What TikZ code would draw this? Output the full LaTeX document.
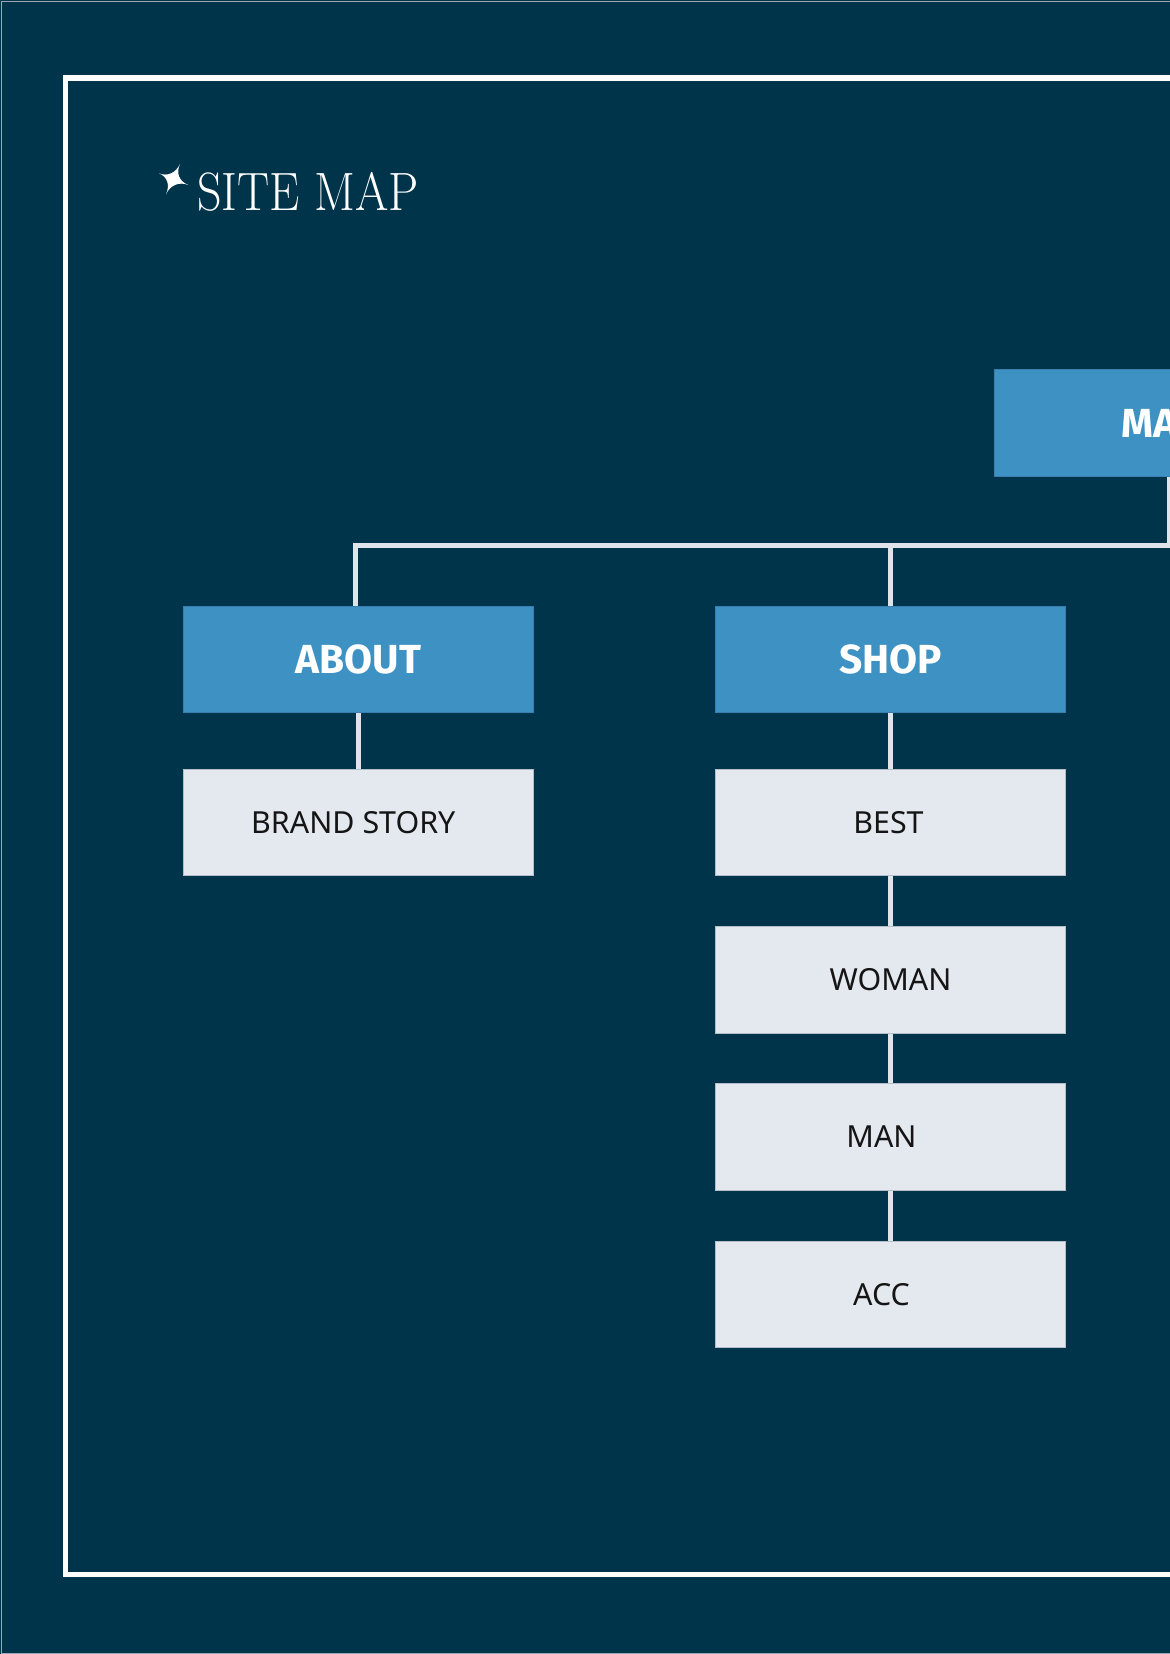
\documentclass[tikz,border=0pt]{standalone}
\usepackage{fontspec}
\newfontfamily\boxfont{Noto Sans}
\newfontfamily\topfont{Fira Sans}
\definecolor{bg}{HTML}{00344A}
\definecolor{boxblue}{HTML}{3D92C3}
\definecolor{boxedge}{HTML}{3580B0}
\definecolor{lightbox}{HTML}{E4E9F0}
\definecolor{lightedge}{HTML}{B4BEC8}
\definecolor{connc}{HTML}{DEE4EA}
\definecolor{edgegray}{HTML}{9AA8B2}
\definecolor{textdark}{HTML}{151515}
\begin{document}
\begin{tikzpicture}[x=0.5pt,y=-0.5pt,
  topbox/.style={rectangle, fill=boxblue, draw=boxedge, line width=0.5pt,
    minimum width=175pt, minimum height=53.2pt, inner sep=0pt, text=white,
    font=\topfont\bfseries\fontsize{20.3}{21}\selectfont,
    text height=14pt, text depth=0pt},
  subbox/.style={rectangle, fill=lightbox, draw=lightedge, line width=0.5pt,
    minimum width=175pt, minimum height=53.2pt, inner sep=0pt, text=textdark,
    font=\boxfont\fontsize{15.2}{16}\selectfont,
    text height=10.85pt, text depth=0pt},
  conn/.style={draw=connc, line width=2.5pt, line join=miter},
  frame/.style={draw=white, line width=2.75pt}]
\useasboundingbox (0,0) rectangle (1170,1654);
\clip (0,0) rectangle (1170,1654);
\fill[bg] (0,0) rectangle (1170,1654);
\draw[edgegray, line width=0.5pt] (1400,1) -- (1,1) -- (1,1653) -- (1400,1653);
\draw[frame] (65.5,78) rectangle (1400,1574.5);

% title
\fill[white] (180,164) .. controls (175.8,173) and (167.4,176.7) .. (159,173.3)
  .. controls (167.4,176.7) and (170.2,185.1) .. (166,194.3)
  .. controls (170.2,185.1) and (179.1,181.4) .. (188.3,185)
  .. controls (179.1,181.4) and (175.8,173) .. cycle;
\node[anchor=base west, inner sep=0pt, text=white, font=\fontsize{27}{28}\selectfont]
  (title) at (197,210.7) {\scalebox{0.89}[1]{SITE MAP}};

% nodes
\node[topbox] (main) at (1169,423) {MA\phantom{IN}};
\node[topbox] (about) at (358.3,659.5) {ABOUT};
\node[topbox] (shop) at (890.5,659.5) {SHOP};
\node[subbox] (brand) at (358.3,822.5) {\hspace*{-5pt}BRAND STORY};
\node[subbox] (best) at (890.5,822.5) {\hspace*{-2pt}BEST};
\node[subbox] (woman) at (890.5,979.8) {WOMAN};
\node[subbox] (man) at (890.5,1137.1) {\hspace*{-9pt}MAN};
\node[subbox] (acc) at (890.5,1294.4) {\hspace*{-9pt}ACC};

% connectors
\coordinate (hl) at (1169,545);
\coordinate (hs) at (890.5,545);
\draw[conn] (main.south) -- (hl) -| ([xshift=-1.65pt]about.north);
\draw[conn] (hs) -- (shop.north);
\draw[conn] (about.south) -- (brand.north);
\draw[conn] (shop.south) -- (best.north);
\draw[conn] (best.south) -- (woman.north);
\draw[conn] (woman.south) -- (man.north);
\draw[conn] (man.south) -- (acc.north);
\end{tikzpicture}
\end{document}
